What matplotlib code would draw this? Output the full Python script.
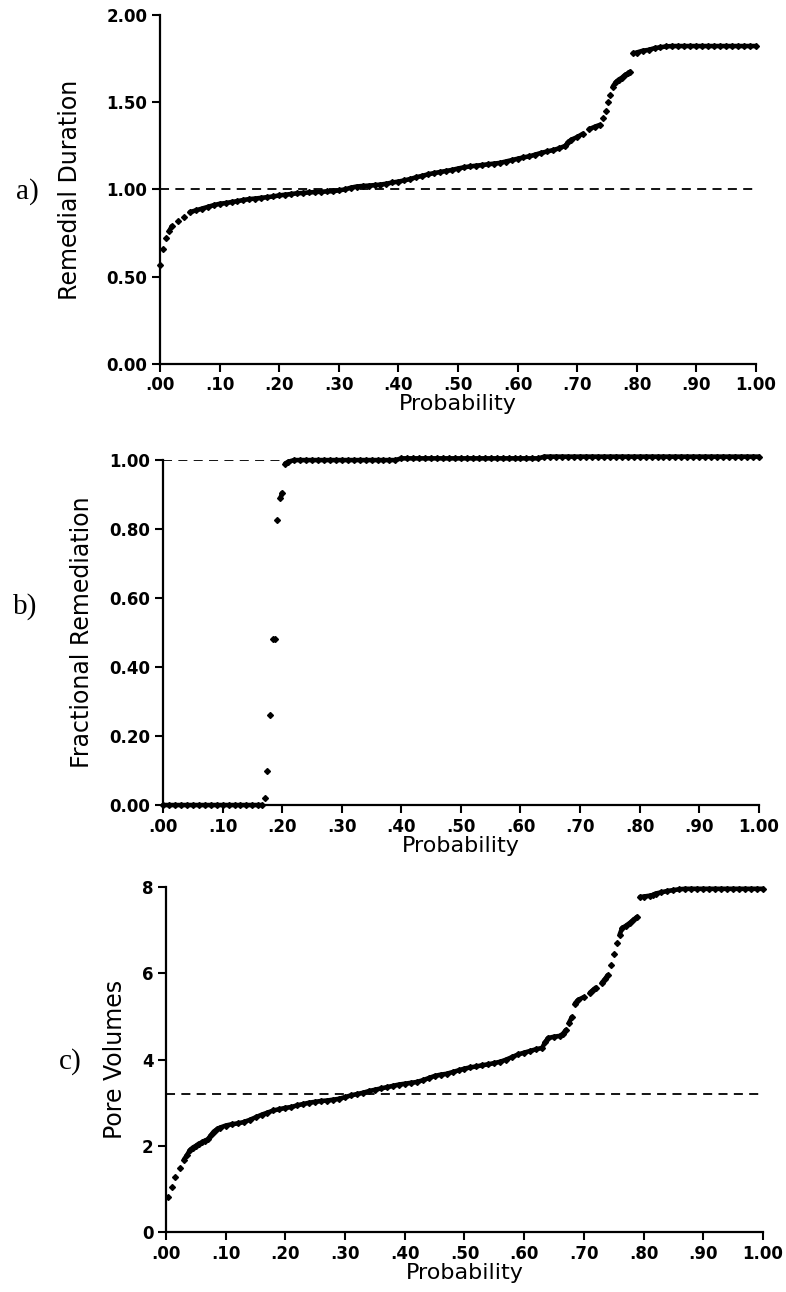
import numpy as np
import matplotlib.pyplot as plt

# ---- data ----
x_ticks = [0.0, 0.1, 0.2, 0.3, 0.4, 0.5, 0.6, 0.7, 0.8, 0.9, 1.0]
x_tick_labels = ['.00', '.10', '.20', '.30', '.40', '.50', '.60', '.70', '.80', '.90', '1.00']

# a) remedial duration
a_prob = [0.000, 0.005, 0.010, 0.015, 0.020, 0.030, 0.040, 0.050, 0.060, 0.070,
          0.080, 0.090, 0.100, 0.110, 0.120, 0.130, 0.140, 0.150, 0.160, 0.170,
          0.180, 0.190, 0.200, 0.210, 0.220, 0.230, 0.240, 0.250, 0.260, 0.270,
          0.280, 0.290, 0.300, 0.310, 0.320, 0.330, 0.340, 0.350, 0.360, 0.370,
          0.380, 0.390, 0.400, 0.410, 0.420, 0.430, 0.440, 0.450, 0.460, 0.470,
          0.480, 0.490, 0.500, 0.510, 0.520, 0.530, 0.540, 0.550, 0.560, 0.570,
          0.580, 0.590, 0.600, 0.610, 0.620, 0.630, 0.640, 0.650, 0.660, 0.670,
          0.680, 0.685, 0.690, 0.700, 0.710, 0.720, 0.730, 0.738, 0.743, 0.748,
          0.752, 0.756, 0.760, 0.765, 0.770, 0.775, 0.780, 0.785, 0.789, 0.794,
          0.800, 0.810, 0.820, 0.830, 0.840, 0.850, 0.860, 0.870, 0.880, 0.890,
          0.900, 0.910, 0.920, 0.930, 0.940, 0.950, 0.960, 0.970, 0.980, 0.990, 1.000]
a_dur = [0.567, 0.660, 0.720, 0.760, 0.790, 0.820, 0.845, 0.870, 0.880, 0.890,
         0.900, 0.910, 0.918, 0.922, 0.928, 0.933, 0.940, 0.945, 0.948, 0.952,
         0.956, 0.960, 0.966, 0.970, 0.974, 0.978, 0.980, 0.983, 0.985, 0.987,
         0.989, 0.990, 0.995, 1.000, 1.010, 1.017, 1.020, 1.022, 1.025, 1.028,
         1.033, 1.040, 1.045, 1.052, 1.060, 1.070, 1.078, 1.087, 1.094, 1.100,
         1.106, 1.112, 1.120, 1.127, 1.132, 1.136, 1.140, 1.144, 1.148, 1.152,
         1.160, 1.168, 1.176, 1.184, 1.190, 1.200, 1.210, 1.218, 1.226, 1.236,
         1.250, 1.270, 1.285, 1.300, 1.320, 1.345, 1.360, 1.370, 1.410, 1.450,
         1.500, 1.540, 1.590, 1.615, 1.630, 1.640, 1.655, 1.665, 1.675, 1.780,
         1.785, 1.795, 1.800, 1.810, 1.815, 1.820, 1.822, 1.822, 1.822, 1.822,
         1.822, 1.822, 1.822, 1.822, 1.822, 1.822, 1.822, 1.822, 1.822, 1.822, 1.822]
a_ref = 1.0

# b) fractional remediation
b_prob = [0.000, 0.010, 0.020, 0.030, 0.040, 0.050, 0.060, 0.070, 0.080, 0.090,
          0.100, 0.110, 0.120, 0.130, 0.140, 0.150, 0.160, 0.166, 0.171, 0.175,
          0.180, 0.185, 0.188, 0.192, 0.197, 0.200, 0.205, 0.210, 0.220, 0.230,
          0.240, 0.250, 0.260, 0.270, 0.280, 0.290, 0.300, 0.310, 0.320, 0.330,
          0.340, 0.350, 0.360, 0.370, 0.380, 0.390, 0.400, 0.410, 0.420, 0.430,
          0.440, 0.450, 0.460, 0.470, 0.480, 0.490, 0.500, 0.510, 0.520, 0.530,
          0.540, 0.550, 0.560, 0.570, 0.580, 0.590, 0.600, 0.610, 0.620, 0.630,
          0.640, 0.650, 0.660, 0.670, 0.680, 0.690, 0.700, 0.710, 0.720, 0.730,
          0.740, 0.750, 0.760, 0.770, 0.780, 0.790, 0.800, 0.810, 0.820, 0.830,
          0.840, 0.850, 0.860, 0.870, 0.880, 0.890, 0.900, 0.910, 0.920, 0.930,
          0.940, 0.950, 0.960, 0.970, 0.980, 0.990, 1.000]
b_frac = [0.000, 0.000, 0.000, 0.000, 0.000, 0.000, 0.000, 0.000, 0.000, 0.000,
          0.000, 0.000, 0.000, 0.000, 0.000, 0.000, 0.000, 0.000, 0.020, 0.100,
          0.260, 0.480, 0.480, 0.826, 0.890, 0.905, 0.990, 0.995, 1.000, 1.000,
          1.000, 1.000, 1.000, 1.000, 1.000, 1.000, 1.000, 1.000, 1.000, 1.000,
          1.000, 1.000, 1.000, 1.000, 1.000, 1.000, 1.005, 1.005, 1.005, 1.005,
          1.005, 1.005, 1.005, 1.005, 1.005, 1.005, 1.005, 1.005, 1.005, 1.005,
          1.005, 1.005, 1.005, 1.005, 1.005, 1.005, 1.005, 1.005, 1.005, 1.005,
          1.010, 1.010, 1.010, 1.010, 1.010, 1.010, 1.010, 1.010, 1.010, 1.010,
          1.010, 1.010, 1.010, 1.010, 1.010, 1.010, 1.010, 1.010, 1.010, 1.010,
          1.010, 1.010, 1.010, 1.010, 1.010, 1.010, 1.010, 1.010, 1.010, 1.010,
          1.010, 1.010, 1.010, 1.010, 1.010, 1.010, 1.010]
b_ref = 1.0
b_ref_end = 0.2

# c) pore volumes
c_prob = [0.003, 0.010, 0.015, 0.023, 0.030, 0.035, 0.040, 0.045, 0.050, 0.055,
          0.060, 0.065, 0.070, 0.075, 0.080, 0.085, 0.090, 0.100, 0.110, 0.120,
          0.130, 0.140, 0.150, 0.160, 0.170, 0.180, 0.190, 0.200, 0.210, 0.220,
          0.230, 0.240, 0.250, 0.260, 0.270, 0.280, 0.290, 0.300, 0.310, 0.320,
          0.330, 0.340, 0.350, 0.360, 0.370, 0.380, 0.390, 0.400, 0.410, 0.420,
          0.430, 0.440, 0.450, 0.460, 0.470, 0.480, 0.490, 0.500, 0.510, 0.520,
          0.530, 0.540, 0.550, 0.560, 0.570, 0.580, 0.590, 0.600, 0.610, 0.620,
          0.630, 0.635, 0.640, 0.650, 0.660, 0.665, 0.670, 0.675, 0.680, 0.685,
          0.690, 0.700, 0.710, 0.715, 0.720, 0.730, 0.735, 0.740, 0.745, 0.750,
          0.755, 0.760, 0.764, 0.770, 0.777, 0.783, 0.789, 0.794, 0.800, 0.810,
          0.816, 0.820, 0.830, 0.840, 0.850, 0.860, 0.870, 0.880, 0.890, 0.900,
          0.910, 0.920, 0.930, 0.940, 0.950, 0.960, 0.970, 0.980, 0.990, 1.000]
c_pv = [0.82, 1.05, 1.28, 1.48, 1.68, 1.78, 1.90, 1.96, 2.00, 2.05,
        2.08, 2.12, 2.15, 2.24, 2.33, 2.38, 2.42, 2.47, 2.50, 2.52,
        2.55, 2.60, 2.66, 2.72, 2.77, 2.82, 2.85, 2.88, 2.90, 2.94,
        2.97, 3.00, 3.02, 3.04, 3.05, 3.07, 3.09, 3.13, 3.17, 3.20,
        3.23, 3.27, 3.30, 3.33, 3.36, 3.39, 3.42, 3.44, 3.46, 3.48,
        3.52, 3.57, 3.62, 3.65, 3.67, 3.71, 3.75, 3.79, 3.82, 3.84,
        3.87, 3.89, 3.92, 3.95, 4.00, 4.06, 4.12, 4.16, 4.20, 4.24,
        4.27, 4.40, 4.50, 4.53, 4.55, 4.60, 4.69, 4.85, 4.99, 5.30,
        5.38, 5.45, 5.55, 5.61, 5.67, 5.78, 5.86, 5.96, 6.20, 6.45,
        6.70, 6.90, 7.05, 7.10, 7.17, 7.24, 7.31, 7.77, 7.78, 7.80,
        7.82, 7.85, 7.88, 7.91, 7.93, 7.95, 7.96, 7.96, 7.96, 7.96,
        7.96, 7.96, 7.96, 7.96, 7.96, 7.96, 7.96, 7.96, 7.96, 7.96]
c_ref = 3.2

W, H = 786, 1292
fig = plt.figure(figsize=(W / 100, H / 100), dpi=100)

panels = [
    # rect, x, y, ylabel, yticks, ylabels, ylim, ref, ref_end, letter, label_x
    ([0.2036, 0.7183, 0.758, 0.2701], a_prob, a_dur, 'Remedial Duration',
     [0.0, 0.5, 1.0, 1.5, 2.0], ['0.00', '0.50', '1.00', '1.50', '2.00'], (0, 2),
     a_ref, 1.0, 'a)', -0.131),
    ([0.2074, 0.3769, 0.758, 0.2670], b_prob, b_frac, 'Fractional Remediation',
     [0.0, 0.2, 0.4, 0.6, 0.8, 1.0], ['0.00', '0.20', '0.40', '0.60', '0.80', '1.00'], (0, 1),
     b_ref, b_ref_end, 'b)', -0.116),
    ([0.2112, 0.0464, 0.7595, 0.2670], c_prob, c_pv, 'Pore Volumes',
     [0, 2, 4, 6, 8], ['0', '2', '4', '6', '8'], (0, 8),
     c_ref, 1.0, 'c)', -0.065),
]
letter_pos = [(27, 192), (25, 607), (70, 1062)]

for (rect, xs, ys, ylab, yt, ytl, ylim, ref, ref_end, letter, lx), (px, py) in zip(panels, letter_pos):
    ax = fig.add_axes(rect)
    ax.plot([0, ref_end], [ref, ref], color='black', lw=1.3, linestyle=(0, (5, 3.5)))

    # dense runs of points merge into a thick band, sparse ones stay separate
    xs = np.array(xs)
    ys = np.array(ys)
    dpx = np.diff(xs) * rect[2] * W
    dpy = np.diff(ys) / (ylim[1] - ylim[0]) * rect[3] * H
    gap = np.hypot(dpx, dpy) > 7
    lx_pts, ly_pts = [xs[0]], [ys[0]]
    for i in range(1, len(xs)):
        if gap[i - 1]:
            lx_pts.append(np.nan)
            ly_pts.append(np.nan)
        lx_pts.append(xs[i])
        ly_pts.append(ys[i])
    ax.plot(lx_pts, ly_pts, color='black', lw=3.3, solid_capstyle='round', clip_on=False)
    ax.plot(xs, ys, linestyle='none', marker='D', ms=3.0, color='black', clip_on=False)

    ax.set_xlim(0, 1)
    ax.set_ylim(*ylim)
    ax.set_xticks(x_ticks)
    ax.set_xticklabels(x_tick_labels)
    ax.set_yticks(yt)
    ax.set_yticklabels(ytl)
    for s in ['top', 'right']:
        ax.spines[s].set_visible(False)
    for s in ['left', 'bottom']:
        ax.spines[s].set_linewidth(1.6)
    ax.tick_params(direction='out', length=6, width=1.5, labelsize=12, pad=3)
    for t in ax.get_xticklabels() + ax.get_yticklabels():
        t.set_fontweight('bold')
    ax.set_xlabel('Probability', fontsize=16, labelpad=0)
    ax.set_ylabel(ylab, fontsize=17)
    ax.yaxis.set_label_coords(lx, 0.5)
    fig.text(px / W, 1 - py / H, letter, fontsize=21, family='Liberation Serif',
             ha='center', va='center')

fig.savefig('out.png', dpi=100)
